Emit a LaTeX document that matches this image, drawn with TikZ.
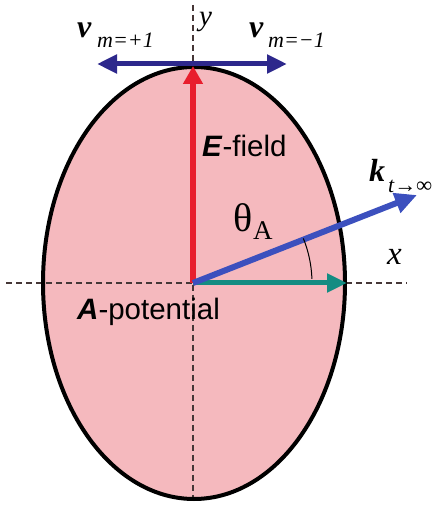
\documentclass[tikz,border=0pt]{standalone}
\usepackage{fontspec}
\setmainfont{Liberation Serif}
\newfontfamily\arialfont{Liberation Sans}
\usetikzlibrary{arrows.meta}
\definecolor{pinkfill}{RGB}{245,185,190}
\definecolor{efieldred}{RGB}{232,30,45}
\definecolor{navyv}{RGB}{45,40,140}
\definecolor{kblue}{RGB}{60,80,190}
\definecolor{ateal}{RGB}{20,140,130}
\definecolor{axisgray}{RGB}{70,55,55}
\begin{document}
\begin{tikzpicture}[x=1pt,y=1pt,
  axis/.style={dash pattern=on 6pt off 4pt, line width=1.3pt, draw=axisgray},
  lbl/.style={inner sep=0pt, anchor=base west},
  sanslbl/.style={lbl, font=\arialfont\fontsize{29.5}{30}\selectfont},
  bigsym/.style={lbl, font=\fontsize{32}{32}\selectfont\bfseries\itshape},
  subsym/.style={lbl, font=\fontsize{22}{22}\selectfont\itshape},
  axlbl/.style={lbl, font=\fontsize{33}{33}\selectfont\itshape}
]
\useasboundingbox (0,0) rectangle (447,506);
% ellipse fill
\fill[pinkfill] (194,223) ellipse [x radius=151, y radius=216];
% axes
\coordinate (xL) at (6,223);
\coordinate (xR) at (407,223);
\coordinate (yT) at (193,501);
\coordinate (yB) at (193,7);
\draw[axis] (xL) -- (xR);
\draw[axis] (yT) -- (yB);
% ellipse outline
\draw[line width=4pt] (194,223) ellipse [x radius=151, y radius=216];
% vectors
\coordinate (O) at (193,223);
\coordinate (Etip) at (193,440);
\coordinate (Ktip) at (417,311);
\coordinate (Atip) at (347,223);
\coordinate (vL) at (97,442);
\coordinate (vR) at (287,442);
\draw[line width=5.5pt, efieldred, -{Triangle[length=18pt,width=19pt]}] (O) -- (Etip);
\draw[line width=5pt, navyv, {Triangle[length=20pt,width=18pt]}-{Triangle[length=20pt,width=18pt]}] (vL) -- (vR);
\draw[line width=5pt, ateal, -{Triangle[length=20pt,width=18pt]}] (O) -- (Atip);
\draw[line width=6pt, kblue, -{Triangle[length=22pt,width=20pt]}] (O) -- (Ktip);
% angle arc
\draw[line width=1pt] (O) ++(2:119) arc[start angle=2, end angle=22, radius=119];
% labels
\node[sanslbl] (Elbl) at (202,349) {\textbf{\textit{E}}-field};
\node[sanslbl] (Albl) at (77,186) {\textbf{\textit{A}}-potential};
\node[lbl, font=\fontsize{40}{40}\selectfont] (th) at (233,274) {θ};
\node[lbl, font=\fontsize{27}{27}\selectfont] (thA) at (253,266) {A};
\node[bigsym] (k) at (369,324) {k};
\node[lbl, font=\fontsize{22}{22}\selectfont\itshape] (ksub) at (388,313) {t→∞};
\node[bigsym] (v1) at (77,468) {v};
\node[subsym] (v1sub) at (97,458) {m=+1};
\node[bigsym] (v2) at (249,468) {v};
\node[subsym] (v2sub) at (268,458) {m=−1};
\node[axlbl] (xlbl) at (387,241) {x};
\node[lbl, font=\fontsize{29}{29}\selectfont\itshape] (ylbl) at (199,480) {y};
\end{tikzpicture}
\end{document}
